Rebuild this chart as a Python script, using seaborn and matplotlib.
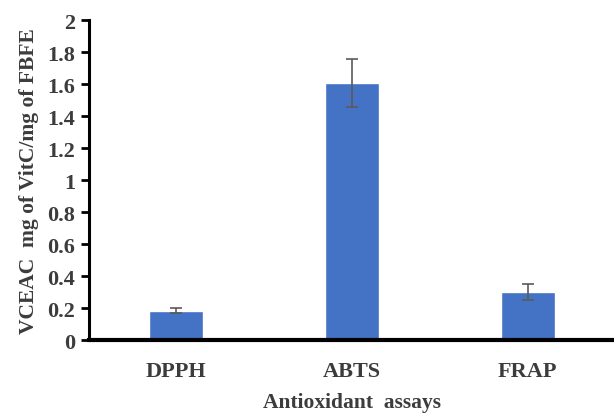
import numpy as np
import pandas as pd
import seaborn as sns
from matplotlib import pyplot as plt

assays = ["DPPH", "ABTS", "FRAP"]
vceac = [0.185, 1.605, 0.300]
err = [0.013, 0.150, 0.050]
yticks = [0, 0.2, 0.4, 0.6, 0.8, 1, 1.2, 1.4, 1.6, 1.8, 2]
yticklabels = ["0", "0.2", "0.4", "0.6", "0.8", "1", "1.2", "1.4", "1.6", "1.8", "2"]

sns.set_style("white")
plt.rcParams["font.family"] = ["Liberation Serif", "DejaVu Serif"]
txt = "#3c3c3c"

df = pd.DataFrame({"assay": assays, "value": vceac})

fig = plt.figure(figsize=(6.14, 4.14), dpi=100)
ax = fig.add_axes([0.145, 0.176, 0.855, 0.773])
sns.barplot(data=df, x="assay", y="value", color="#4472C4", saturation=1,
            width=0.31, errorbar=None, ax=ax)
ax.errorbar(np.arange(len(assays)), vceac, yerr=err, fmt="none",
            ecolor="#5a5a5a", elinewidth=1.2, capsize=4, capthick=1.2)

ax.set_ylim(0, 2)
ax.set_xlim(-0.494, 2.49)
ax.set_yticks(yticks)
ax.set_yticklabels(yticklabels)
ax.tick_params(axis="y", direction="out", length=6, width=2, color="black",
               labelsize=16, labelcolor=txt, pad=4, left=True)
ax.tick_params(axis="x", length=0, labelsize=16, labelcolor=txt, pad=15)
for lab in ax.get_xticklabels() + ax.get_yticklabels():
    lab.set_fontweight("bold")

for s in ["top", "right"]:
    ax.spines[s].set_visible(False)
ax.spines["left"].set_linewidth(2.2)
ax.spines["left"].set_color("black")
ax.spines["bottom"].set_linewidth(3)
ax.spines["bottom"].set_color("black")

ax.set_xlabel("Antioxidant  assays", fontsize=15.5, fontweight="bold", color=txt, labelpad=8)
ax.set_ylabel("VCEAC  mg of VitC/mg of FBFE", fontsize=15.5, fontweight="bold",
              color=txt, labelpad=6)

fig.savefig("out.png", dpi=100)
